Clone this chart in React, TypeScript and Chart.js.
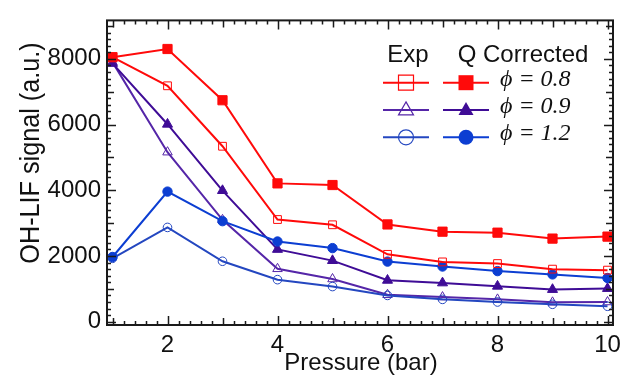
import React, { useEffect, useRef } from 'react';
import { Chart, registerables } from 'chart.js';

Chart.register(...registerables);

const pressures = [1, 2, 3, 4, 5, 6, 7, 8, 9, 10];
const expPhi08 = [8050, 7180, 5340, 3110, 2950, 2050, 1820, 1770, 1600, 1570];
const qPhi08 = [8050, 8300, 6740, 4210, 4160, 2960, 2740, 2710, 2530, 2590];
const expPhi09 = [7900, 5160, 3100, 1610, 1300, 820, 750, 680, 590, 600];
const qPhi09 = [7860, 6010, 3990, 2200, 1860, 1260, 1180, 1080, 980, 1010];
const expPhi12 = [1930, 2870, 1840, 1280, 1070, 800, 680, 600, 530, 470];
const qPhi12 = [1970, 3960, 3060, 2440, 2240, 1830, 1680, 1540, 1440, 1330];

const xTickLabels = [2, 4, 6, 8, 10];
const yTickLabels = [0, 2000, 4000, 6000, 8000];
const legendRows = ['\u03d5 = 0.8', '\u03d5 = 0.9', '\u03d5 = 1.2'];

const RED = '#ff0a0a';
const PURPLE_Q = '#3f0c96';
const PURPLE_E = '#5526a8';
const BLUE_Q = '#0c3ed2';
const BLUE_E = '#2447c0';

const toPts = (arr: number[]) => pressures.map((x, i) => ({ x, y: arr[i] }));

function drawMarker(ctx: CanvasRenderingContext2D, style: string, x: number, y: number, size: number, color: string, filled: boolean) {
  ctx.save();
  ctx.beginPath();
  const h = size / 2;
  if (style === 'rect') {
    ctx.rect(x - h, y - h, size, size);
  } else if (style === 'triangle') {
    const th = size * 0.87;
    ctx.moveTo(x, y - th * 0.62);
    ctx.lineTo(x + h, y + th * 0.38);
    ctx.lineTo(x - h, y + th * 0.38);
    ctx.closePath();
  } else {
    ctx.arc(x, y, h, 0, Math.PI * 2);
  }
  if (filled) {
    ctx.fillStyle = color;
    ctx.fill();
  } else {
    ctx.strokeStyle = color;
    ctx.lineWidth = 1.2;
    ctx.stroke();
  }
  ctx.restore();
}

const framePlugin = {
  id: 'framePlugin',
  afterDraw(chart: any) {
    const { ctx, chartArea: a, scales } = chart;
    const xs = scales.x;
    const ys = scales.y;
    ctx.save();
    ctx.strokeStyle = '#1a1a1a';
    ctx.lineWidth = 1.5;
    for (let i = 5; i <= 50; i++) {
      const v = i / 5;
      const px = Math.round(xs.getPixelForValue(v)) + 0.5;
      let len = 4;
      if (i % 5 === 0) len = (v % 2 === 0) ? 9 : 7;
      ctx.beginPath();
      ctx.moveTo(px, a.bottom);
      ctx.lineTo(px, a.bottom - len);
      ctx.moveTo(px, a.top);
      ctx.lineTo(px, a.top + len);
      ctx.stroke();
    }
    for (let v = 0; v <= 9000; v += 200) {
      const py = Math.round(ys.getPixelForValue(v)) + 0.5;
      let len = 4;
      if (v % 2000 === 0) len = 9;
      else if (v % 1000 === 0) len = 7;
      ctx.beginPath();
      ctx.moveTo(a.left, py);
      ctx.lineTo(a.left + len, py);
      ctx.moveTo(a.right, py);
      ctx.lineTo(a.right - len, py);
      ctx.stroke();
    }
    ctx.lineWidth = 2;
    ctx.strokeRect(a.left, a.top, a.right - a.left, a.bottom - a.top);

    ctx.fillStyle = '#111';
    ctx.font = '24px "Liberation Sans", Arial, sans-serif';
    ctx.textAlign = 'center';
    ctx.textBaseline = 'alphabetic';
    ctx.fillText('Pressure (bar)', 361, 370);

    ctx.save();
    ctx.translate(39, 153);
    ctx.rotate(-Math.PI / 2);
    ctx.scale(0.9, 1);
    ctx.font = '28px "Liberation Sans", Arial, sans-serif';
    ctx.textAlign = 'center';
    ctx.textBaseline = 'alphabetic';
    ctx.fillText('OH-LIF signal (a.u.)', 0, 0);
    ctx.restore();

    ctx.font = '24px "Liberation Sans", Arial, sans-serif';
    ctx.textAlign = 'center';
    ctx.textBaseline = 'alphabetic';
    ctx.fillStyle = '#111';
    ctx.fillText('Exp', 408, 62);
    ctx.fillText('Q Corrected', 523, 62);

    const rowsY = [82.7, 110, 137.3];
    const styles = ['rect', 'triangle', 'circle'];
    const qCols = [RED, PURPLE_Q, BLUE_Q];
    const eCols = [RED, PURPLE_E, BLUE_E];
    rowsY.forEach((ry, k) => {
      ctx.lineWidth = 2;
      ctx.strokeStyle = eCols[k];
      ctx.beginPath();
      ctx.moveTo(383, ry);
      ctx.lineTo(429, ry);
      ctx.stroke();
      drawMarker(ctx, styles[k], 406, ry, 15, eCols[k], false);
      ctx.strokeStyle = qCols[k];
      ctx.beginPath();
      ctx.moveTo(443, ry);
      ctx.lineTo(489, ry);
      ctx.stroke();
      drawMarker(ctx, styles[k], 466, ry, 15, qCols[k], true);
      ctx.fillStyle = '#111';
      ctx.font = 'italic 24px "Liberation Serif", "Times New Roman", serif';
      ctx.textAlign = 'left';
      ctx.fillText(legendRows[k], 500, ry + 3);
    });
    ctx.restore();
  },
};

export default function App() {
  const ref = useRef<HTMLCanvasElement | null>(null);
  useEffect(() => {
    if (!ref.current) return;
    const mk = (label: string, data: number[], color: string, style: string, filled: boolean, r: number) => ({
      label,
      data: toPts(data),
      borderColor: color,
      backgroundColor: filled ? color : 'rgba(0,0,0,0)',
      pointBackgroundColor: filled ? color : 'rgba(0,0,0,0)',
      pointBorderColor: color,
      pointBorderWidth: 1,
      pointStyle: style,
      pointRadius: r,
      borderWidth: 2,
      tension: 0,
      fill: false,
    });
    const chart = new Chart(ref.current, {
      type: 'line',
      data: {
        datasets: [
          mk('Q \u03d5=0.8', qPhi08, RED, 'rect', true, 6.5),
          mk('Exp \u03d5=0.8', expPhi08, RED, 'rect', false, 5.5),
          mk('Q \u03d5=1.2', qPhi12, BLUE_Q, 'circle', true, 4.7),
          mk('Exp \u03d5=1.2', expPhi12, BLUE_E, 'circle', false, 4.3),
          mk('Q \u03d5=0.9', qPhi09, PURPLE_Q, 'triangle', true, 5.8),
          mk('Exp \u03d5=0.9', expPhi09, PURPLE_E, 'triangle', false, 5.5),
        ] as any,
      },
      options: {
        responsive: false,
        animation: false,
        layout: { padding: { top: 16, right: 21, left: 0, bottom: 0 } },
        plugins: { legend: { display: false }, tooltip: { enabled: false } },
        scales: {
          x: {
            type: 'linear',
            min: 0.9,
            max: 10.1,
            grid: { display: false, drawTicks: false },
            border: { display: false },
            ticks: {
              font: { family: '"Liberation Sans", Arial, sans-serif', size: 24 },
              color: '#111',
              padding: 6,
              maxRotation: 0,
              autoSkip: false,
              callback: (v: any) => String(v),
            },
            afterBuildTicks: (s: any) => {
              s.ticks = xTickLabels.map((v) => ({ value: v }));
            },
            afterFit: (s: any) => {
              s.height = 61;
            },
          },
          y: {
            type: 'linear',
            min: -100,
            max: 9170,
            grid: { display: false, drawTicks: false },
            border: { display: false },
            ticks: {
              font: { family: '"Liberation Sans", Arial, sans-serif', size: 24 },
              color: '#111',
              padding: 6,
              autoSkip: false,
              callback: (v: any) => String(v),
            },
            afterBuildTicks: (s: any) => {
              s.ticks = yTickLabels.map((v) => ({ value: v }));
            },
            afterFit: (s: any) => {
              s.width = 107;
            },
          },
        },
      } as any,
      plugins: [framePlugin],
    });
    return () => chart.destroy();
  }, []);
  return (
    <div style={{ position: 'absolute', left: 0, top: 0, width: 634, height: 386, background: '#fff' }}>
      <canvas ref={ref} width={634} height={386} style={{ display: 'block' }} />
    </div>
  );
}
